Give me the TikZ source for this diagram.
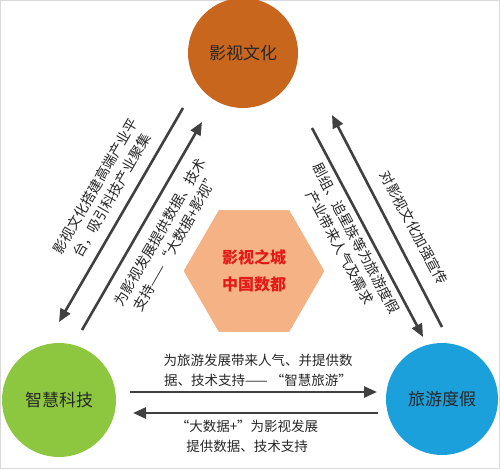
\documentclass[tikz,border=0pt]{standalone}
\usepackage{fontspec}
\setmainfont{Noto Sans CJK SC}
\usepackage{xcolor}
\usetikzlibrary{arrows.meta, positioning, shapes.geometric, calc}

\definecolor{filmorange}{HTML}{C8661E}
\definecolor{techgreen}{HTML}{8DC73F}
\definecolor{travelblue}{HTML}{1BA0DC}
\definecolor{hexfill}{HTML}{F5B385}
\definecolor{arrowgray}{HTML}{404040}
\definecolor{cityred}{HTML}{E31A1A}

\begin{document}
\begin{tikzpicture}[
x=1pt, y=-1pt,
hub/.style={circle, minimum size=110pt, inner sep=0pt, font=\fontsize{17}{20}\selectfont, text=black!85},
flow/.style={-{Triangle[length=13pt, width=11pt]}, line width=2.6pt, draw=arrowgray},
note/.style={align=center, font=\fontsize{13.5}{20}\selectfont, text=black!85, inner sep=0pt},
slant/.style={note, font=\fontsize{14}{18.5}\selectfont},
hexagon/.style={regular polygon, regular polygon sides=6, minimum size=140pt, inner sep=0pt, fill=hexfill, draw=hexfill!85!brown}
]

% Frame
\useasboundingbox (0,0) rectangle (500,469);
\draw[black!15, line width=1pt] (0.5,0.5) rectangle (499.5,468.5);

% Hubs
\node[hub, fill=filmorange] (film) at (243,53) {影视文化};
\node[hub, fill=techgreen, minimum size=114pt] (tech) at (59,400) {智慧科技};
\node[hub, fill=travelblue, minimum size=112pt] (travel) at (442,399) {旅游度假};

% Center
\node[hexagon, align=center, text=cityred, font=\fontsize{16}{27}\selectfont\bfseries] (city) at (254,271) {影视之城\\中国数都};

% Arrow ends
\coordinate (ft1) at (183,108);
\coordinate (ft2) at (59,322);
\coordinate (tf1) at (82,330);
\coordinate (tf2) at (202,122);
\coordinate (fv1) at (312,128);
\coordinate (fv2) at (423,337);
\coordinate (vf1) at (442,327);
\coordinate (vf2) at (332,115);
\coordinate (tv1) at (130,392);
\coordinate (tv2) at (377,392);
\coordinate (vt1) at (378,413);
\coordinate (vt2) at (133,413);

% Interactions
\draw[flow] (ft1) -- (ft2);
\draw[flow] (tf1) -- (tf2);
\draw[flow] (fv1) -- (fv2);
\draw[flow] (vf1) -- (vf2);
\draw[flow] (tv1) -- (tv2);
\draw[flow] (vt1) -- (vt2);

% Labels
\node[slant, rotate=60] (ftnote) at (104,191) {影视文化搭建高端产业平\\台，吸引科技产业聚集};
\node[slant, rotate=60] (tfnote) at (168,237) {为影视发展提供数据、技术\\支持——“大数据+影视”};
\node[slant, rotate=-62] (fvnote) at (348,243) {剧组、追星族等为旅游度假\\产业带来人气及需求};
\node[slant, rotate=-62] (vfnote) at (414,228) {对影视文化加强宣传};
\node[note] (tvnote) at (258,370) {为旅游发展带来人气、并提供数\\据、技术支持—— “智慧旅游”};
\node[note] (vtnote) at (247,436) {“大数据+”为影视发展\\提供数据、技术支持};

\end{tikzpicture}
\end{document}
